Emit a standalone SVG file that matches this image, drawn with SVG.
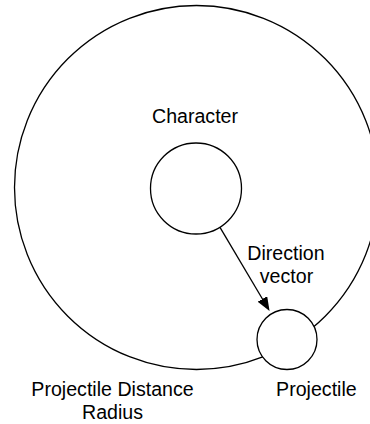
<svg xmlns="http://www.w3.org/2000/svg" width="370" height="424" viewBox="0 0 370 424">
<style>
.shape{fill:#fff;stroke:#000;stroke-width:1.3}
.lbl{font-family:"Liberation Sans",Arial,sans-serif;font-size:19.6px;fill:#000;text-anchor:middle}
.edge{stroke:#000;stroke-width:1.3;fill:none}
</style>
<defs>
<marker id="arr" viewBox="0 0 14 11" refX="7" refY="5.5" markerWidth="14" markerHeight="11" markerUnits="userSpaceOnUse" orient="auto">
<path d="M0,0 L14,5.5 L0,11 z" fill="#000"/>
</marker>
</defs>
<g id="radius">
<circle class="shape" cx="196.5" cy="187.5" r="182"/>
<text class="lbl" x="112.5" y="396.3">Projectile Distance</text>
<text class="lbl" x="112.5" y="419.3">Radius</text>
</g>
<g id="character">
<circle class="shape" cx="196" cy="188.5" r="45.5"/>
<text class="lbl" x="195" y="123.3">Character</text>
</g>
<g id="connectors">
<line class="edge" x1="220" y1="227.3" x2="266" y2="305" marker-end="url(#arr)"/>
<text class="lbl" x="286" y="260.3">Direction</text>
<text class="lbl" x="286.5" y="282.7">vector</text>
</g>
<g id="projectile">
<circle class="shape" cx="287" cy="339.5" r="30"/>
<text class="lbl" x="316.4" y="396.3">Projectile</text>
</g>
</svg>
